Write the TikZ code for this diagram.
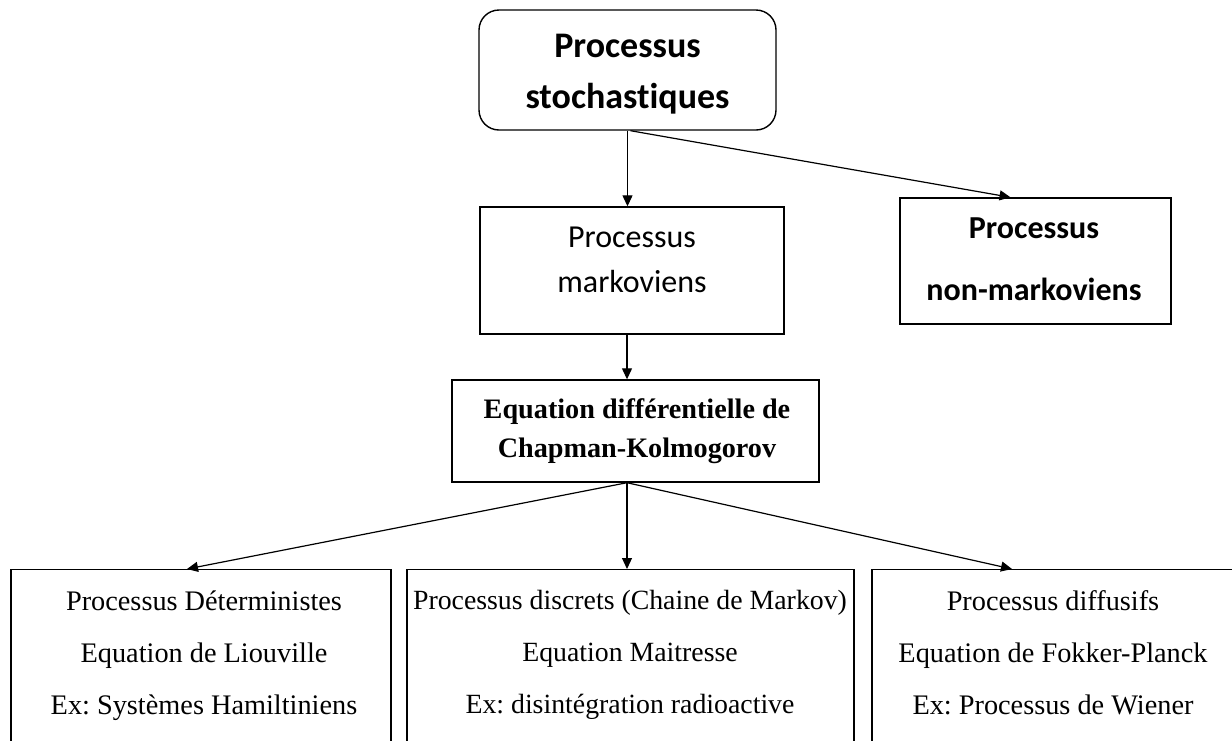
\documentclass[tikz,border=0pt]{standalone}
\usepackage{fontspec}
\setmainfont{Liberation Serif}
\newfontfamily\calib[Ligatures=NoCommon]{Carlito}
\usetikzlibrary{arrows.meta}
\frenchspacing

\begin{document}
\begin{tikzpicture}[x=1pt, y=-1pt,
  box/.style={draw, line width=1.4pt, inner sep=0pt},
  arr/.style={line width=1.2pt, -{Triangle[length=11pt,width=10pt]}},
  sanstxt/.style={align=center, inner sep=0pt, font=\calib\fontsize{32}{45}\selectfont},
  seriftxt/.style={align=center, inner sep=0pt, font=\fontsize{28.3}{52}\selectfont}]

  \useasboundingbox (0,0) rectangle (1232,740);
  \clip (0,0) rectangle (1232,740);

  %--- Top: stochastic processes ---
  \node[box, rounded corners=20pt, minimum width=297pt, minimum height=120pt] (stoch) at (627.5,70) {};
  \node[sanstxt, font=\calib\bfseries\fontsize{36}{51}\selectfont] (stochtxt) at (627.5,74.4) {Processus\\stochastiques};

  %--- Second row: markov / non-markov ---
  \node[box, minimum width=304pt, minimum height=127pt] (markov) at (632,270.5) {};
  \node[sanstxt] (markovtxt) at (632,259.7) {Processus\\markoviens};
  \node[box, minimum width=271pt, minimum height=126pt] (nonmark) at (1035.5,261) {};
  \node[sanstxt, font=\calib\bfseries\fontsize{32}{62}\selectfont] (nonmarktxt) at (1034,259) {Processus\\non-markoviens};

  %--- Chapman-Kolmogorov ---
  \node[box, minimum width=367pt, minimum height=102pt] (chap) at (635.5,431) {};
  \node[seriftxt, font=\bfseries\fontsize{28.2}{39}\selectfont] (chaptxt) at (637,431.2) {Equation différentielle de\\Chapman-Kolmogorov};

  %--- Bottom row (cut by the page edge) ---
  \node[box, anchor=north, minimum width=380pt, minimum height=240pt] (determ) at (201,569) {};
  \node[seriftxt] (determtxt) at (204,655.5) {Processus Déterministes\\Equation de Liouville\\Ex: Systèmes Hamiltiniens};
  \node[box, anchor=north, minimum width=447pt, minimum height=240pt] (discret) at (630.5,569) {};
  \node[seriftxt, font=\fontsize{27.8}{52}\selectfont] (discrettxt) at (630,655.3) {Processus discrets (Chaine de Markov)\\Equation Maitresse\\Ex: disintégration radioactive};
  \node[box, anchor=north, minimum width=364pt, minimum height=240pt] (diffus) at (1054,569) {};
  \node[seriftxt] (diffustxt) at (1053,653) {Processus diffusifs\\Equation de Fokker-Planck\\Ex: Processus de Wiener};

  %--- Arrows ---
  \draw[arr] (stoch.south) -- (stoch.south |- markov.north);
  \draw[arr] ([xshift=3pt]stoch.south) -- ([xshift=-25pt]nonmark.north);
  \coordinate (mstem) at ([xshift=-5pt]markov.south);
  \draw[arr] (mstem) -- (mstem |- chap.north);
  \coordinate (fork) at ([xshift=-8.5pt]chap.south);
  \draw[arr] (fork) -- ([xshift=-14pt]determ.north);
  \draw[arr] (fork) -- (fork |- discret.north);
  \draw[arr] (fork) -- ([xshift=-42pt]diffus.north);

\end{tikzpicture}
\end{document}
